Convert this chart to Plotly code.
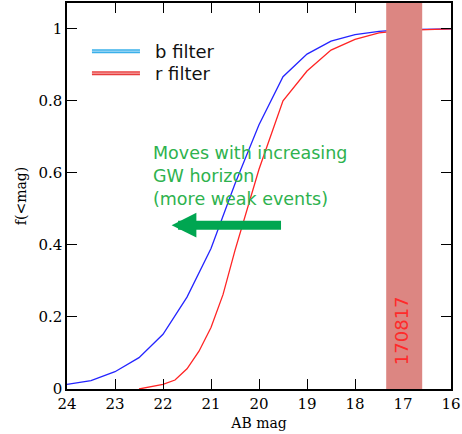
import plotly.graph_objects as go

# Data
mag_b = [24, 23.5, 23, 22.5, 22, 21.5, 21, 20.5, 20, 19.5, 19, 18.5, 18, 17.5, 17, 16.5, 16]
f_b = [0.013, 0.023, 0.048, 0.087, 0.152, 0.255, 0.39, 0.57, 0.734, 0.867, 0.930, 0.966, 0.984, 0.993, 0.998, 0.999, 1.0]
mag_r = [22.5, 22, 21.75, 21.5, 21.25, 21, 20.75, 20.5, 20, 19.5, 19, 18.5, 18, 17.5, 17, 16.5, 16]
f_r = [0.0, 0.013, 0.025, 0.056, 0.105, 0.171, 0.262, 0.385, 0.61, 0.80, 0.883, 0.941, 0.971, 0.989, 0.996, 0.999, 1.0]
band = [17.35, 16.6]
band_label = "170817"
x_ticks = [24, 23, 22, 21, 20, 19, 18, 17, 16]
y_ticks = [0, 0.2, 0.4, 0.6, 0.8, 1]
y_tick_labels = ["0", "0.2", "0.4", "0.6", "0.8", "1"]
legend_names = ["b filter", "r filter"]
note = "Moves with increasing<br>GW horizon<br>(more weak events)"

serif = "DejaVu Serif"
sans = "DejaVu Sans"

fig = go.Figure()
fig.add_trace(go.Scatter(x=mag_b, y=f_b, mode="lines", line=dict(color="#2424ff", width=1.3),
                         name=legend_names[0], showlegend=False))
fig.add_trace(go.Scatter(x=mag_r, y=f_r, mode="lines", line=dict(color="#ff2424", width=1.3),
                         name=legend_names[1], showlegend=False))

# shaded band
fig.add_shape(type="rect", xref="x", yref="paper", x0=band[0], x1=band[1], y0=0, y1=1,
              fillcolor="#dc8682", line=dict(width=0), layer="above")

# legend (manual)
leg_y = [0.938, 0.877]
leg_cols = [("#3ab0ea", "#b5e0f7"), ("#e83c3c", "#f7b8b8")]
for yy, (c1, c2), name in zip(leg_y, leg_cols, legend_names):
    fig.add_shape(type="line", xref="x", yref="y", x0=23.48, x1=22.48, y0=yy, y1=yy,
                  line=dict(color=c1, width=4))
    fig.add_shape(type="line", xref="x", yref="y", x0=23.48, x1=22.48, y0=yy, y1=yy,
                  line=dict(color=c2, width=1))
    fig.add_annotation(x=22.21, y=yy, xref="x", yref="y", text=name, showarrow=False,
                       xanchor="left", yanchor="middle", font=dict(family=sans, size=18, color="#111111"))

# green note
fig.add_annotation(x=22.25, y=0.592, xref="x", yref="y", text=note, showarrow=False,
                   xanchor="left", yanchor="middle", align="left",
                   font=dict(family=sans, size=17.5, color="#2eb24e"))
# arrow
fig.add_annotation(x=21.82, y=0.455, ax=19.51, ay=0.455, xref="x", yref="y", axref="x", ayref="y",
                   text="", showarrow=True, arrowhead=2, arrowsize=0.55, arrowwidth=9,
                   arrowcolor="#00a651")

# band label
fig.add_annotation(x=(band[0] + band[1]) / 2 + 0.07, y=0.163, xref="x", yref="y", text=band_label,
                   showarrow=False, textangle=-90, font=dict(family=sans, size=18, color="#ff2a2a"))

axis_common = dict(showline=True, linecolor="black", linewidth=1.5, mirror="ticks",
                   ticks="inside", ticklen=10, tickwidth=1.3, tickcolor="black",
                   showgrid=False, zeroline=False,
                   tickfont=dict(family=serif, size=15, color="black"))
fig.update_xaxes(range=[24, 16], tickvals=x_ticks, ticktext=[str(v) for v in x_ticks],
                 title=dict(text="AB mag", font=dict(family=serif, size=14, color="black"), standoff=6),
                 **axis_common)
fig.update_yaxes(range=[0, 1.0718], tickvals=y_ticks, ticktext=y_tick_labels,
                 title=dict(text="f(<mag)", font=dict(family=serif, size=14, color="black"), standoff=8),
                 **axis_common)

fig.update_layout(width=462, height=434, margin=dict(l=67, r=10, t=1, b=45),
                  plot_bgcolor="white", paper_bgcolor="white", showlegend=False)

fig.write_html("out.html", config={"displayModeBar": False},
               post_script="document.body.style.margin='0';document.body.style.padding='0';")
